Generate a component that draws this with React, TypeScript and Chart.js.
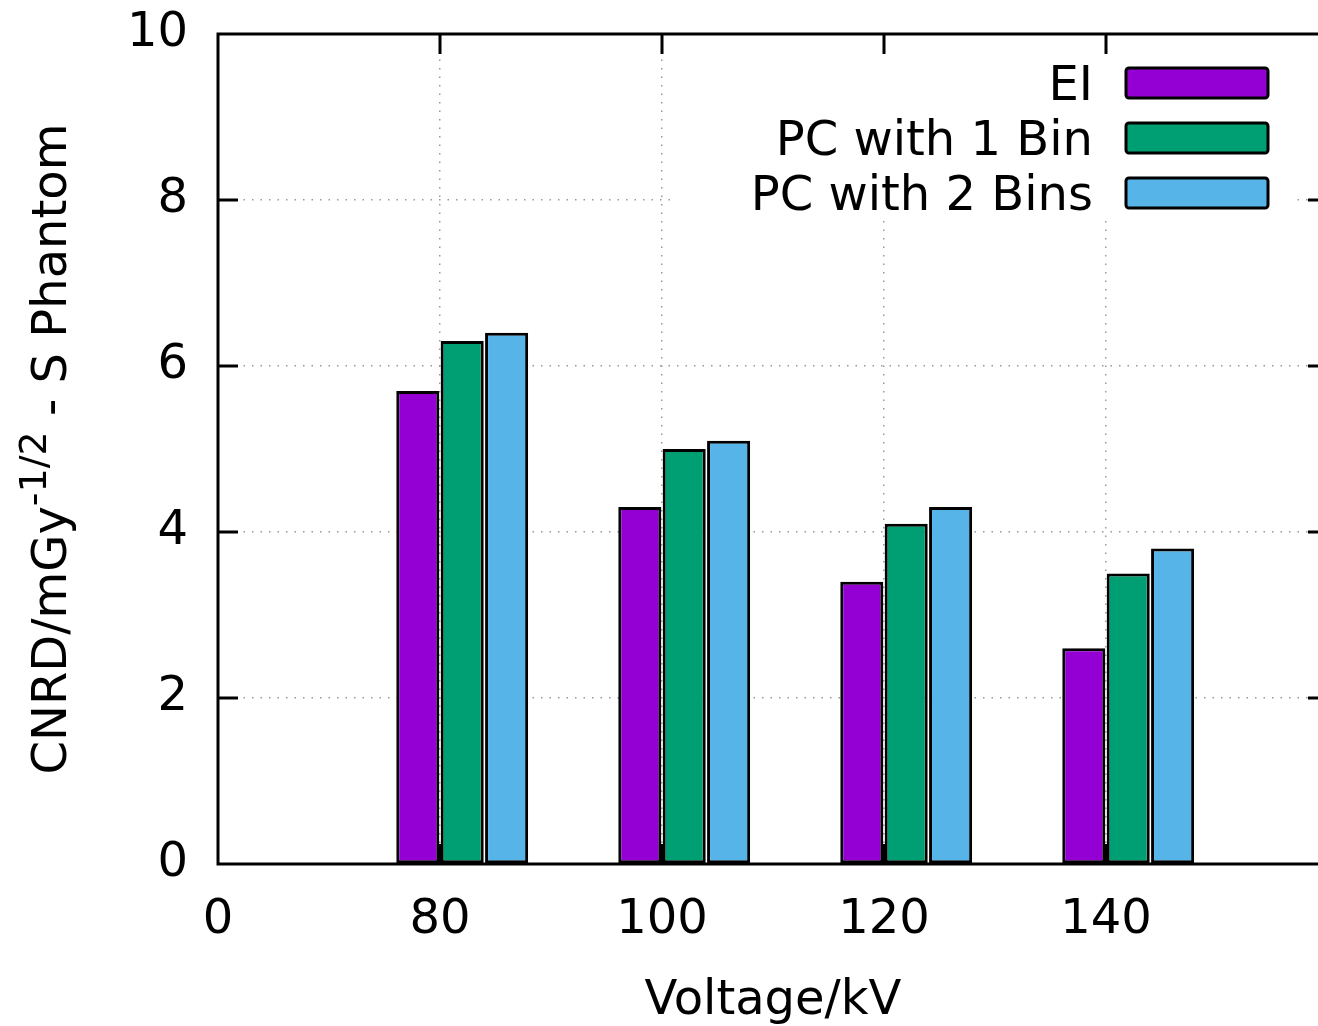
import { useEffect, useRef } from 'react';
import { Chart, registerables } from 'chart.js';

Chart.register(...registerables);

// ---- data ----
const categories = ['80', '100', '120', '140'];
const xTickLabels = ['0', '80', '100', '120', '140', ''];
const seriesNames = ['EI', 'PC with 1 Bin', 'PC with 2 Bins'];
const eiValues = [5.7, 4.3, 3.4, 2.6];
const pc1Values = [6.3, 5.0, 4.1, 3.5];
const pc2Values = [6.4, 5.1, 4.3, 3.8];
const yTickValues = [0, 2, 4, 6, 8, 10];

// ---- style ----
const colors = ['#9400D3', '#009E73', '#56B4E9'];
const barShift = [-0.1, 0.1, 0.3];
const FONT = '"DejaVu Sans", "Liberation Sans", sans-serif';

const seriesValues = [eiValues, pc1Values, pc2Values];

const framePlugin = {
  id: 'gnuFrame',
  afterDraw(chart: any) {
    const ctx = chart.ctx as CanvasRenderingContext2D;
    const { left, right, top, bottom } = chart.chartArea;
    const xs = chart.scales.x;
    const ys = chart.scales.y;

    // ---- legend (opaque key) ----
    ctx.save();
    ctx.fillStyle = '#ffffff';
    ctx.fillRect(672, 56, 1296 - 672, 218 - 56);
    ctx.font = `48px ${FONT}`;
    ctx.textAlign = 'right';
    ctx.textBaseline = 'alphabetic';
    const textRight = 1093;
    const boxLeft = 1126;
    const boxW = 142;
    const boxH = 30;
    seriesNames.forEach((name, i) => {
      const base = 100 + i * 55;
      ctx.fillStyle = '#000';
      ctx.fillText(name, textRight, base);
      const by = base - 32;
      ctx.fillStyle = colors[i];
      ctx.beginPath();
      (ctx as any).roundRect
        ? (ctx as any).roundRect(boxLeft, by, boxW, boxH, 3)
        : ctx.rect(boxLeft, by, boxW, boxH);
      ctx.fill();
      ctx.lineWidth = 3;
      ctx.strokeStyle = '#000';
      ctx.stroke();
    });
    ctx.restore();

    // ---- frame & inward ticks ----
    ctx.save();
    ctx.strokeStyle = '#000';
    ctx.lineWidth = 3;
    ctx.lineCap = 'butt';
    const tl = 20;
    ctx.beginPath();
    for (let v = 1; v < xTickLabels.length - 1; v++) {
      const px = xs.getPixelForValue(v);
      ctx.moveTo(px, bottom);
      ctx.lineTo(px, bottom - tl);
      ctx.moveTo(px, top);
      ctx.lineTo(px, top + tl);
    }
    yTickValues.slice(1, -1).forEach((v) => {
      const py = ys.getPixelForValue(v);
      ctx.moveTo(left, py);
      ctx.lineTo(left + tl, py);
      ctx.moveTo(right, py);
      ctx.lineTo(right - tl, py);
    });
    ctx.stroke();
    ctx.lineJoin = 'miter';
    ctx.strokeRect(left, top, right - left, bottom - top);
    ctx.restore();

    // ---- y-axis title with superscript ----
    ctx.save();
    const cy = (top + bottom) / 2;
    ctx.translate(66, cy);
    ctx.rotate(-Math.PI / 2);
    ctx.fillStyle = '#000';
    ctx.textBaseline = 'alphabetic';
    ctx.textAlign = 'left';
    const mainFont = `48px ${FONT}`;
    const supFont = `38px ${FONT}`;
    const parts = [
      { t: 'CNRD/mGy', f: mainFont, dy: 0 },
      { t: '-1/2', f: supFont, dy: -20 },
      { t: ' - S Phantom', f: mainFont, dy: 0 },
    ];
    let total = 0;
    const widths = parts.map((p) => {
      ctx.font = p.f;
      const w = ctx.measureText(p.t).width;
      total += w;
      return w;
    });
    let x = -total / 2;
    parts.forEach((p, i) => {
      ctx.font = p.f;
      ctx.fillText(p.t, x, p.dy);
      x += widths[i];
    });
    ctx.restore();
  },
};

const zeroPadding = (scale: any) => {
  scale.paddingTop = 0;
  scale.paddingBottom = 0;
  scale.paddingLeft = 0;
  scale.paddingRight = 0;
};

export default function App() {
  const canvasRef = useRef<HTMLCanvasElement | null>(null);

  useEffect(() => {
    if (!canvasRef.current) return;
    const datasets = seriesNames.map((name, s) => ({
      label: name,
      data: seriesValues[s].map((v, i) => ({
        x: xTickLabels.indexOf(categories[i]) + barShift[s],
        y: v,
      })),
      backgroundColor: colors[s],
      borderColor: '#000',
      borderWidth: 3,
      borderSkipped: false as const,
      grouped: false,
      barPercentage: 0.97,
      categoryPercentage: 1,
    }));

    const gridColor = (max: number) => (c: any) =>
      c.tick && (c.tick.value === 0 || c.tick.value === max) ? 'rgba(0,0,0,0)' : '#999999';

    const chart = new Chart(canvasRef.current, {
      type: 'bar',
      data: { datasets: datasets as any },
      plugins: [framePlugin],
      options: {
        animation: false,
        responsive: false,
        devicePixelRatio: 1,
        layout: { padding: { left: 0, top: 34, right: 12, bottom: 0 } },
        plugins: {
          legend: { display: false },
          tooltip: { enabled: false },
          title: { display: false },
        },
        scales: {
          x: {
            type: 'linear',
            min: 0,
            max: xTickLabels.length - 1,
            offset: false,
            grid: {
              offset: false,
              drawTicks: false,
              color: gridColor(xTickLabels.length - 1),
              lineWidth: 1.5,
            },
            border: { display: false, dash: [1.5, 7] },
            ticks: {
              stepSize: 1,
              autoSkip: false,
              maxRotation: 0,
              padding: 28,
              color: '#000',
              font: { family: FONT, size: 48 },
              callback: (v: any) => xTickLabels[Math.round(Number(v))] ?? '',
            },
            title: {
              display: true,
              text: 'Voltage/kV',
              color: '#000',
              font: { family: FONT, size: 48, lineHeight: 1 },
              padding: { top: 0, bottom: 0 },
            },
            afterFit: (scale: any) => {
              scale.height = 162;
              zeroPadding(scale);
            },
          },
          y: {
            type: 'linear',
            min: 0,
            max: 10,
            grid: {
              drawTicks: false,
              color: gridColor(10),
              lineWidth: 1.5,
            },
            border: { display: false, dash: [1.5, 7] },
            ticks: {
              stepSize: 2,
              padding: 30,
              color: '#000',
              font: { family: FONT, size: 48 },
            },
            afterFit: (scale: any) => {
              scale.width = 218;
              zeroPadding(scale);
            },
          },
        },
      } as any,
    });
    return () => chart.destroy();
  }, []);

  return (
    <div
      style={{
        position: 'fixed',
        left: 0,
        top: 0,
        width: 1318,
        height: 1026,
        overflow: 'hidden',
        background: '#fff',
      }}
    >
      <canvas ref={canvasRef} width={1340} height={1026} style={{ width: 1340, height: 1026, display: 'block' }} />
    </div>
  );
}
